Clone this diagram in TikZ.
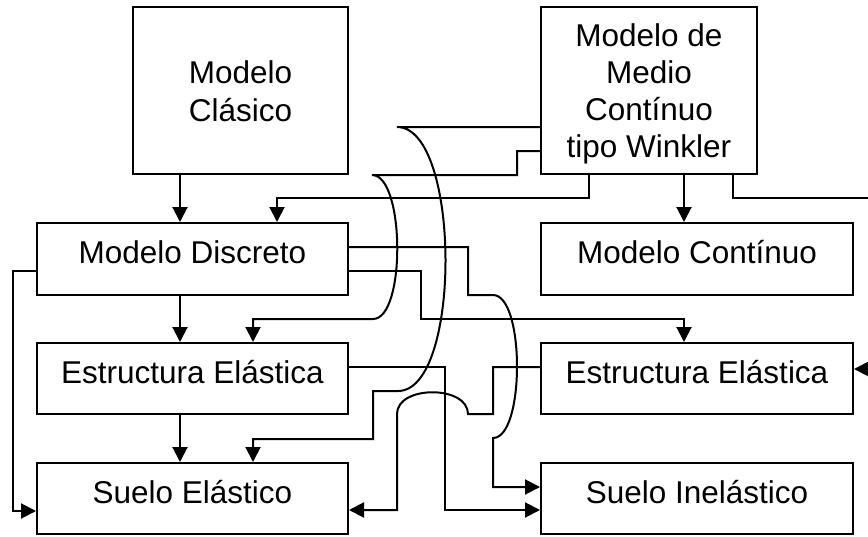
\documentclass[tikz,border=0pt]{standalone}
\usepackage{fontspec}
\setmainfont{Liberation Sans}
\usetikzlibrary{arrows.meta}
\begin{document}
\begin{tikzpicture}[x=1pt,y=-1pt,
  box/.style={draw, line width=2pt, rectangle, inner sep=0pt,
    font=\fontsize{31.5}{37.5}\selectfont, text height=23pt, text depth=14pt},
  lbl/.style={inner sep=0pt, anchor=base, font=\fontsize{31.5}{37.5}\selectfont},
  conn/.style={line width=2pt},
  arr/.style={line width=2pt, -{Triangle[length=15pt,width=15pt]}}]
\useasboundingbox (0,0) rectangle (868,536);

% boxes
\node[box, minimum width=215pt, minimum height=167pt] (mc) at (240.5,90.5) {};
\node[lbl] (mct1) at (240.5,83) {Modelo};
\node[lbl] (mct2) at (240.5,121) {Clásico};

\node[box, minimum width=216pt, minimum height=167pt] (mw) at (649,90.5) {};
\node[lbl] (mwt1) at (649,46) {Modelo de};
\node[lbl] (mwt2) at (649,83.5) {Medio};
\node[lbl] (mwt3) at (649,120.5) {Contínuo};
\node[lbl] (mwt4) at (649,157) {tipo Winkler};

\node[box, minimum width=311pt, minimum height=72pt] (md) at (192.5,259) {Modelo Discreto};
\node[box, minimum width=312pt, minimum height=72pt] (mco) at (697,259) {Modelo Contínuo};
\node[box, minimum width=311pt, minimum height=71pt] (el) at (192.5,378.5) {Estructura Elástica};
\node[box, minimum width=312pt, minimum height=71pt] (er) at (697,378.5) {Estructura Elástica};
\node[box, minimum width=311pt, minimum height=71pt] (sl) at (192.5,498.5) {Suelo Elástico};
\node[box, minimum width=312pt, minimum height=71pt] (si) at (697,498.5) {Suelo Inelástico};

% straight vertical arrows
\coordinate (xa) at (180,0);
\draw[arr] (mc.south -| xa) -- (md.north -| xa);
\draw[arr] (md.south -| xa) -- (el.north -| xa);
\draw[arr] (el.south -| xa) -- (sl.north -| xa);

% Winkler -> Discreto
\coordinate (w1) at (589,198);
\coordinate (w2) at (277,198);
\draw[arr] (mw.south -| w1) -- (w1) -- (w2) -- (md.north -| w2);

% Winkler -> Continuo
\coordinate (w3) at (684,0);
\draw[arr] (mw.south -| w3) -- (mco.north -| w3);

% Winkler -> right edge
\coordinate (w4) at (733,198);
\coordinate (e1) at (868,198);
\draw[conn] (mw.south -| w4) -- (w4) -- (e1);

% right edge -> Estructura right
\coordinate (e2) at (868,369);
\draw[arr] (e2) -- (er.east |- e2);

% Discreto left loop -> Suelo Elastico
\coordinate (l1) at (13,271);
\coordinate (l2) at (13,511);
\draw[arr] (md.west |- l1) -- (l1) -- (l2) -- (sl.west |- l2);

% Winkler -> Suelo Elastico (big arc)
\coordinate (a1) at (397,127);
\coordinate (a2) at (398,391);
\coordinate (a3) at (373,391);
\coordinate (a4) at (373,439);
\coordinate (a5) at (253,439);
\draw[arr] (mw.west |- a1) -- (a1) .. controls (461,127) and (462,391) .. (a2)
  -- (a3) -- (a4) -- (a5) -- (sl.north -| a5);

% Winkler -> Estructura left (small arc)
\coordinate (b1) at (517,151);
\coordinate (b2) at (517,175);
\coordinate (b3) at (372,175);
\coordinate (b4) at (373,319);
\coordinate (b5) at (253,319);
\draw[arr] (mw.west |- b1) -- (b1) -- (b2) -- (b3) .. controls (405,175) and (406,319) .. (b4)
  -- (b5) -- (el.north -| b5);

% Discreto -> Estructura right
\coordinate (d1) at (421,271);
\coordinate (d2) at (421,319);
\coordinate (d3) at (684,319);
\draw[arr] (md.east |- d1) -- (d1) -- (d2) -- (d3) -- (er.north -| d3);

% Discreto -> Suelo Inelastico (arc)
\coordinate (c1) at (468,247);
\coordinate (c2) at (468,295);
\coordinate (c3) at (493,295);
\coordinate (c4) at (493,438);
\coordinate (c5) at (493,487);
\draw[arr] (md.east |- c1) -- (c1) -- (c2) -- (c3) .. controls (525,295) and (525,438) .. (c4)
  -- (c5) -- (si.west |- c5);

% Estructura left -> Suelo Inelastico
\coordinate (f1) at (445,367);
\coordinate (f2) at (445,510);
\draw[arr] (el.east |- f1) -- (f1) -- (f2) -- (si.west |- f2);

% Estructura right -> Suelo Elastico (with hop)
\coordinate (g1) at (493,367);
\coordinate (g2) at (493,414);
\coordinate (g3) at (468,414);
\coordinate (g4) at (397,414);
\coordinate (g5) at (397,510);
\draw[arr] (er.west |- g1) -- (g1) -- (g2) -- (g3) .. controls (468,385) and (397,385) .. (g4)
  -- (g5) -- (sl.east |- g5);
\end{tikzpicture}
\end{document}
